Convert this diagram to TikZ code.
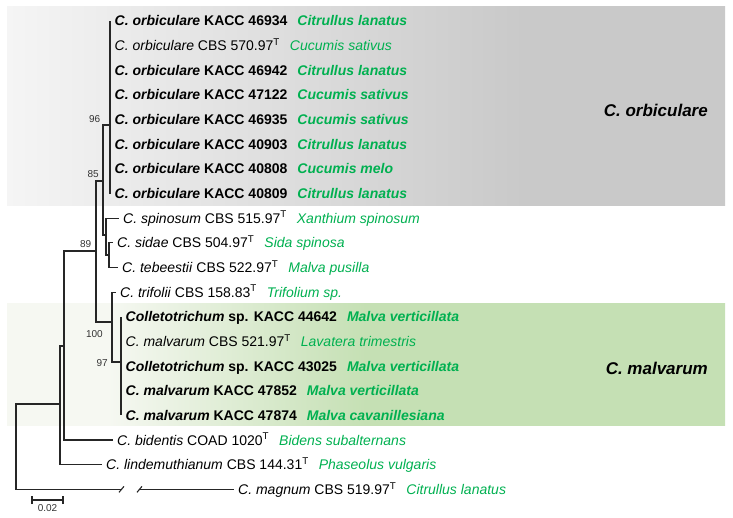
\documentclass[tikz,border=0pt]{standalone}
\usepackage{fontspec}
\setmainfont{Liberation Sans}
\usepackage{tikz}
\definecolor{hostgreen}{RGB}{0,176,80}
\definecolor{orbgray}{RGB}{201,201,201}
\definecolor{orbleft}{RGB}{245,245,245}
\definecolor{malgreen}{RGB}{197,224,180}
\definecolor{malpale}{RGB}{246,248,242}
\pgfdeclarehorizontalshading{orbshade}{100bp}{color(0bp)=(orbleft); color(25bp)=(orbleft); color(61bp)=(orbgray); color(100bp)=(orbgray)}
\pgfdeclarehorizontalshading{malshade}{100bp}{color(0bp)=(malpale); color(32bp)=(malpale); color(50bp)=(malgreen); color(100bp)=(malgreen)}

\begin{document}
\begin{tikzpicture}[x=1pt, y=-1pt,
    leaf/.style ={anchor=west, inner xsep=4.5pt, inner ysep=0pt, text height=10pt, text depth=0pt, font=\fontsize{14}{16}\selectfont},
    support/.style ={inner sep=1pt, text=black!80, font=\fontsize{10}{12}\selectfont},
    branch/.style ={line width=1.1pt, black!85},
    clade/.style ={anchor=east, inner sep=0pt, font=\fontsize{17}{20}\selectfont\bfseries\itshape}]
   \useasboundingbox (0,0) rectangle (733,518);
   % shaded clade boxes
   \shade[shading=orbshade] (7,7) rectangle (725,206);
   \shade[shading=malshade] (7,304) rectangle (725,425);

   \node[clade] (corb) at (708,110) {C. orbiculare};
   \node[clade] (cmal) at (708,368) {C. malvarum};

   % taxa
   \node[leaf] (o1) at (110,21) {\textbf{\textit{C. orbiculare} KACC 46934}\hspace{10pt}\textcolor{hostgreen}{\textbf{\textit{Citrullus lanatus}}}};
   \node[leaf] (o2) at (110,45.65) {\textit{C. orbiculare} CBS 570.97\textsuperscript{T}\hspace{10pt}\textcolor{hostgreen}{\textit{Cucumis sativus}}};
   \node[leaf] (o3) at (110,70.3) {\textbf{\textit{C. orbiculare} KACC 46942}\hspace{10pt}\textcolor{hostgreen}{\textbf{\textit{Citrullus lanatus}}}};
   \node[leaf] (o4) at (110,94.95) {\textbf{\textit{C. orbiculare} KACC 47122}\hspace{10pt}\textcolor{hostgreen}{\textbf{\textit{Cucumis sativus}}}};
   \node[leaf] (o5) at (110,119.6) {\textbf{\textit{C. orbiculare} KACC 46935}\hspace{10pt}\textcolor{hostgreen}{\textbf{\textit{Cucumis sativus}}}};
   \node[leaf] (o6) at (110,144.25) {\textbf{\textit{C. orbiculare} KACC 40903}\hspace{10pt}\textcolor{hostgreen}{\textbf{\textit{Citrullus lanatus}}}};
   \node[leaf] (o7) at (110,168.9) {\textbf{\textit{C. orbiculare} KACC 40808}\hspace{10pt}\textcolor{hostgreen}{\textbf{\textit{Cucumis melo}}}};
   \node[leaf] (o8) at (110,193.55) {\textbf{\textit{C. orbiculare} KACC 40809}\hspace{10pt}\textcolor{hostgreen}{\textbf{\textit{Citrullus lanatus}}}};
   \node[leaf] (spin) at (118.5,218.2) {\textit{C. spinosum} CBS 515.97\textsuperscript{T}\hspace{10pt}\textcolor{hostgreen}{\textit{Xanthium spinosum}}};
   \node[leaf] (sida) at (112.5,242.85) {\textit{C. sidae} CBS 504.97\textsuperscript{T}\hspace{10pt}\textcolor{hostgreen}{\textit{Sida spinosa}}};
   \node[leaf] (tebe) at (117.5,267.5) {\textit{C. tebeestii} CBS 522.97\textsuperscript{T}\hspace{10pt}\textcolor{hostgreen}{\textit{Malva pusilla}}};
   \node[leaf] (trif) at (115.5,292.15) {\textit{C. trifolii} CBS 158.83\textsuperscript{T}\hspace{10pt}\textcolor{hostgreen}{\textit{Trifolium sp.}}};
   \node[leaf] (m1) at (121,316.8) {\textbf{\textit{Colletotrichum} sp. KACC 44642}\hspace{10pt}\textcolor{hostgreen}{\textbf{\textit{Malva verticillata}}}};
   \node[leaf] (m2) at (121,341.45) {\textit{C. malvarum} CBS 521.97\textsuperscript{T}\hspace{10pt}\textcolor{hostgreen}{\textit{Lavatera trimestris}}};
   \node[leaf] (m3) at (121,366.1) {\textbf{\textit{Colletotrichum} sp. KACC 43025}\hspace{10pt}\textcolor{hostgreen}{\textbf{\textit{Malva verticillata}}}};
   \node[leaf] (m4) at (121,390.75) {\textbf{\textit{C. malvarum} KACC 47852}\hspace{10pt}\textcolor{hostgreen}{\textbf{\textit{Malva verticillata}}}};
   \node[leaf] (m5) at (121,415.4) {\textbf{\textit{C. malvarum} KACC 47874}\hspace{10pt}\textcolor{hostgreen}{\textbf{\textit{Malva cavanillesiana}}}};
   \node[leaf] (bide) at (112.5,440) {\textit{C. bidentis} COAD 1020\textsuperscript{T}\hspace{10pt}\textcolor{hostgreen}{\textit{Bidens subalternans}}};
   \node[leaf] (lind) at (101.5,464.7) {\textit{C. lindemuthianum} CBS 144.31\textsuperscript{T}\hspace{10pt}\textcolor{hostgreen}{\textit{Phaseolus vulgaris}}};
   \node[leaf] (magn) at (233.5,489.35) {\textit{C. magnum} CBS 519.97\textsuperscript{T}\hspace{10pt}\textcolor{hostgreen}{\textit{Citrullus lanatus}}};

   % internal nodes
   \coordinate (orb) at (110,125);
   \coordinate (n96) at (103,181);
   \coordinate (nS) at (106,235);
   \coordinate (nST) at (109,255);
   \coordinate (n85) at (96,251);
   \coordinate (n100) at (112,322);
   \coordinate (mal) at (121,362);
   \coordinate (n89) at (64,346);
   \coordinate (nL) at (60,404);
   \coordinate (root) at (16,446);
   \coordinate (cut1) at (121.5,489.35);
   \coordinate (cut2) at (139.5,489.35);

   \draw[branch] (orb) |- (o1.west);
   \draw[branch] (orb) |- (o2.west);
   \draw[branch] (orb) |- (o3.west);
   \draw[branch] (orb) |- (o4.west);
   \draw[branch] (orb) |- (o5.west);
   \draw[branch] (orb) |- (o6.west);
   \draw[branch] (orb) |- (o7.west);
   \draw[branch] (orb) |- (o8.west);
   \draw[branch] (n96) |- (orb);
   \draw[branch] (n96) |- (nS);
   \draw[branch] (nS) |- (spin.west);
   \draw[branch] (nS) |- (nST);
   \draw[branch] (nST) |- (sida.west);
   \draw[branch] (nST) |- (tebe.west);
   \draw[branch] (n85) |- (n96);
   \draw[branch] (n85) |- (n100);
   \draw[branch] (n100) |- (trif.west);
   \draw[branch] (n100) |- (mal);
   \draw[branch] (mal) |- (m1.west);
   \draw[branch] (mal) |- (m2.west);
   \draw[branch] (mal) |- (m3.west);
   \draw[branch] (mal) |- (m4.west);
   \draw[branch] (mal) |- (m5.west);
   \draw[branch] (n89) |- (n85);
   \draw[branch] (n89) |- (bide.west);
   \draw[branch] (nL) |- (n89);
   \draw[branch] (nL) |- (lind.west);
   \draw[branch] (root) |- (nL);
   \draw[branch] (root) |- (cut1);
   \draw[branch] (cut2) -- (magn.west);
   % break in the long branch
   \draw[branch] ([shift={(-2.5,3)}]cut1) -- ([shift={(2.5,-3)}]cut1);
   \draw[branch] ([shift={(-2.5,3)}]cut2) -- ([shift={(2.5,-3)}]cut2);

   % bootstrap values
   \node[support, anchor=south east] (b96) at (101.5,123.5) {96};
   \node[support, anchor=south east] (b85) at (100,178.5) {85};
   \node[support, anchor=south east] (b89) at (92.5,248.5) {89};
   \node[support, anchor=north east] (b100) at (104,329) {100};
   \node[support, anchor=east] (b97) at (109,363) {97};

   % scale bar
   \coordinate (sb1) at (32,500);
   \coordinate (sb2) at (63,500);
   \draw[branch] (sb1) -- (sb2);
   \draw[branch] ([yshift=-4pt]sb1) -- ([yshift=4pt]sb1);
   \draw[branch] ([yshift=-4pt]sb2) -- ([yshift=4pt]sb2);
   \node[support] (sbl) at (47.5,508.5) {0.02};
 \end{tikzpicture}
\end{document}
